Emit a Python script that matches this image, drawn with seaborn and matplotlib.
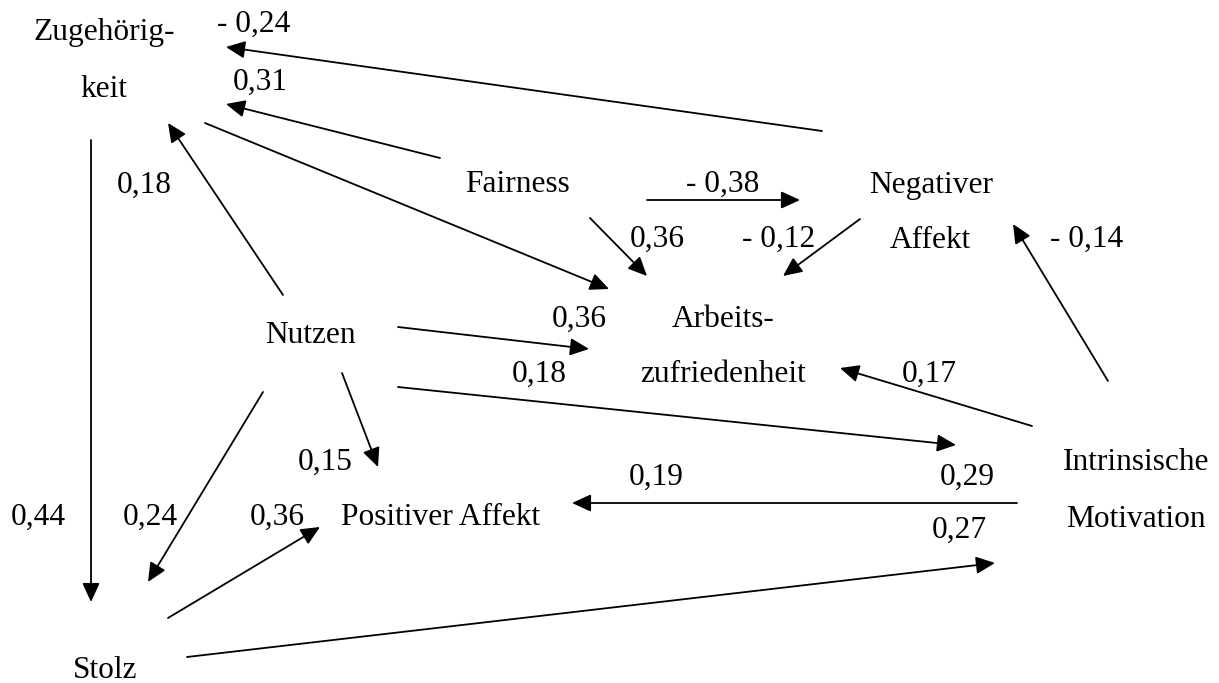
import numpy as np
import matplotlib
matplotlib.use("Agg")
import matplotlib.pyplot as plt
import seaborn as sns

sns.set_theme(style="white")
plt.rcParams["font.family"] = ["Liberation Serif", "DejaVu Serif"]

# node captions (one entry per text line), baseline positions in pixel space
node_text = ["Zugehörig-", "keit", "Fairness", "Negativer", "Affekt",
             "Nutzen", "Arbeits-", "zufriedenheit", "Positiver Affekt",
             "Intrinsische", "Motivation", "Stolz"]
node_x = [104, 104, 517, 931, 930, 310, 723, 723, 441, 1136, 1136, 105]
node_y = [40, 97, 192, 193, 248, 343, 327, 382, 525, 470, 527, 678]

# path coefficients
coef_text = ["- 0,24", "0,31", "0,18", "- 0,38", "0,36", "- 0,12", "- 0,14",
             "0,36", "0,18", "0,17", "0,15", "0,29", "0,19",
             "0,44", "0,24", "0,36", "0,27"]
coef_x = [254, 260, 144, 723, 657, 779, 1087,
          579, 539, 929, 325, 967, 656,
          38, 150, 277, 959]
coef_y = [32, 90, 193, 192, 247, 247, 247,
          327, 382, 382, 470, 485, 485,
          525, 525, 525, 538]

# arrows: start -> end (head at end)
edge_x0 = [822, 440, 205, 283, 91, 647, 590, 860, 1108, 398, 1032, 398, 342, 263, 168, 187, 1017]
edge_y0 = [131, 158, 123, 295, 140, 200, 218, 219, 381, 327, 426, 387, 373, 392, 618, 657, 503]
edge_x1 = [226, 226, 609, 168, 91, 800, 647, 783, 1013, 589, 840, 956, 378, 148, 320, 995, 572]
edge_y1 = [47, 104, 289, 123, 602, 200, 276, 276, 224, 349, 368, 445, 467, 582, 527, 563, 503]

FS = 22.6

fig = plt.figure(figsize=(12.19, 6.83), dpi=100)
ax = fig.add_axes([0, 0, 1, 1])
ax.set_xlim(0, 1219)
ax.set_ylim(683, 0)
ax.axis("off")

for x0, y0, x1, y1 in zip(edge_x0, edge_y0, edge_x1, edge_y1):
    ax.annotate("", xy=(x1, y1), xytext=(x0, y0),
                arrowprops=dict(arrowstyle="-|>,head_length=0.48,head_width=0.22",
                                color="black", lw=1.3, mutation_scale=24,
                                shrinkA=0, shrinkB=0))

for t, x, y in zip(node_text, node_x, node_y):
    ax.text(x, y, t, ha="center", va="baseline", fontsize=FS, color="black")

for t, x, y in zip(coef_text, coef_x, coef_y):
    ax.text(x, y, t, ha="center", va="baseline", fontsize=FS, color="black")

sns.despine(ax=ax, left=True, bottom=True)
fig.savefig("out.png", dpi=100, facecolor="white")
